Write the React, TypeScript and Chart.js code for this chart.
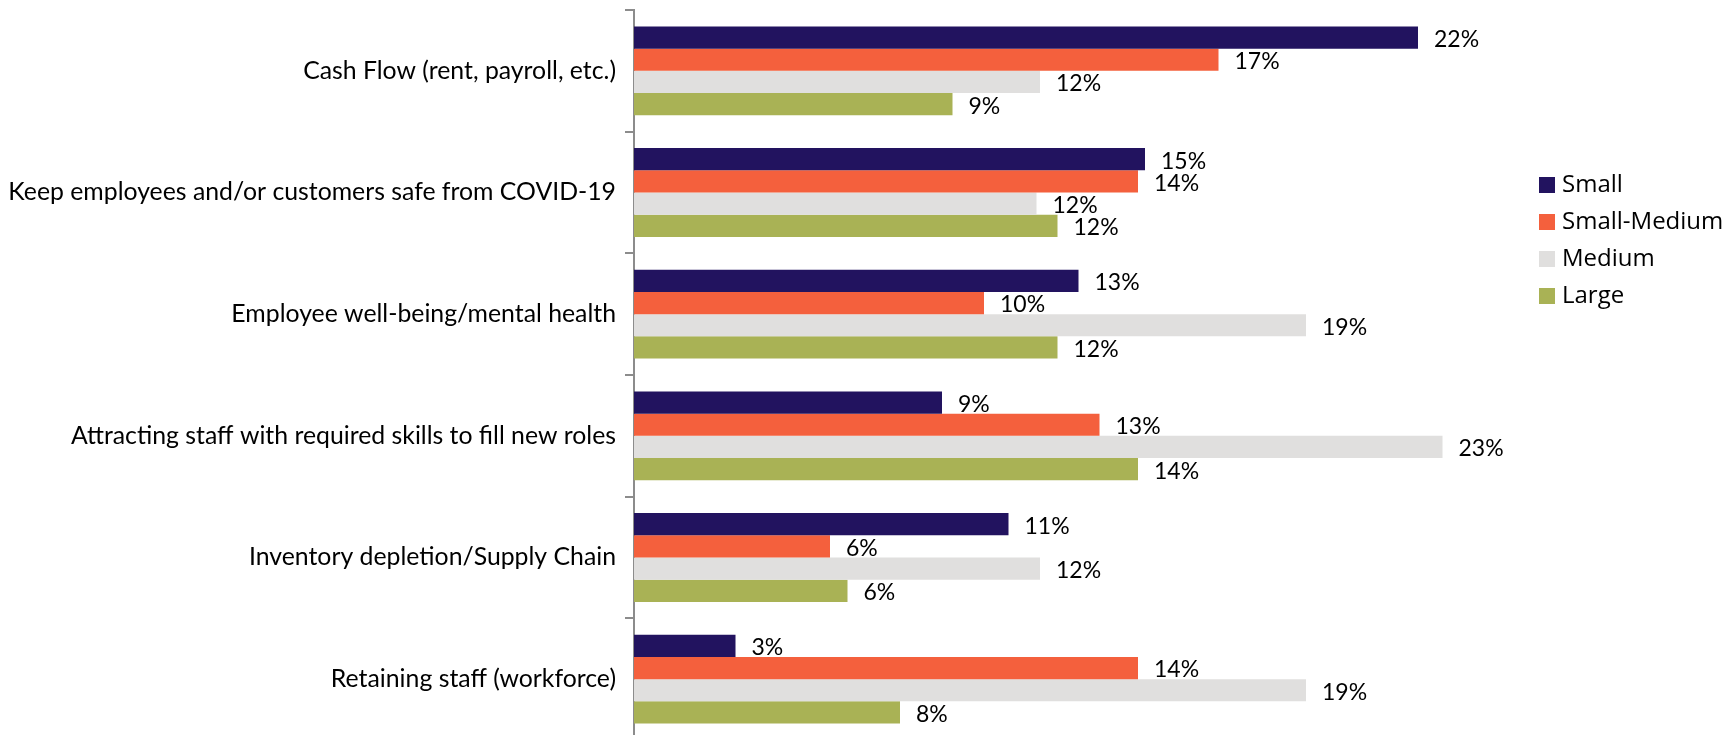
import { useEffect, useRef } from 'react';
import { Chart, registerables } from 'chart.js';

Chart.register(...registerables);

const categories = [
  'Cash Flow (rent, payroll, etc.)',
  'Keep employees and/or customers safe from COVID-19',
  'Employee well-being/mental health',
  'Attracting staff with required skills to fill new roles',
  'Inventory depletion/Supply Chain',
  'Retaining staff (workforce)',
];

const seriesNames = ['Small', 'Small-Medium', 'Medium', 'Large'];
const seriesColors = ['#22135F', '#F4603D', '#E0DFDE', '#A9B255'];

const small = [22.4, 14.6, 12.7, 8.8, 10.7, 2.9];
const smallMedium = [16.7, 14.4, 10.0, 13.3, 5.6, 14.4];
const medium = [11.6, 11.5, 19.2, 23.1, 11.6, 19.2];
const large = [9.1, 12.1, 12.1, 14.4, 6.1, 7.6];

const seriesValues = [small, smallMedium, medium, large];

const labelFont = 'Lato, "Open Sans", sans-serif';
const legendFont = '"Open Sans", Lato, sans-serif';

const dataLabelPlugin = {
  id: 'dataLabels',
  afterDatasetsDraw(chart: any) {
    const ctx = chart.ctx;
    ctx.save();
    ctx.font = `23px ${labelFont}`;
    ctx.fillStyle = '#000';
    ctx.textAlign = 'left';
    ctx.textBaseline = 'middle';
    chart.data.datasets.forEach((ds: any, di: number) => {
      const meta = chart.getDatasetMeta(di);
      meta.data.forEach((bar: any, i: number) => {
        const v = ds.data[i];
        ctx.fillText(`${Math.round(v)}%`, bar.x + 16, bar.y + 2);
      });
    });
    ctx.restore();
  },
};

const legendPlugin = {
  id: 'sideLegend',
  afterDraw(chart: any) {
    const ctx = chart.ctx;
    ctx.save();
    ctx.font = `24px ${legendFont}`;
    ctx.textAlign = 'left';
    ctx.textBaseline = 'middle';
    chart.data.datasets.forEach((ds: any, i: number) => {
      const cy = 185 + i * 37;
      ctx.fillStyle = ds.backgroundColor;
      ctx.fillRect(1539, cy - 8, 16, 16);
      ctx.fillStyle = '#000';
      ctx.fillText(ds.label, 1562, cy);
    });
    ctx.restore();
  },
};

export default function App() {
  const ref = useRef<HTMLCanvasElement | null>(null);

  useEffect(() => {
    document.body.style.margin = '0';
    const canvas = ref.current;
    if (!canvas) return;
    const chart = new Chart(canvas, {
      type: 'bar',
      data: {
        labels: categories,
        datasets: seriesNames.map((name, i) => ({
          label: name,
          data: seriesValues[i],
          backgroundColor: seriesColors[i],
          borderWidth: 0,
          barPercentage: 1,
          categoryPercentage: 0.73,
        })),
      },
      options: {
        indexAxis: 'y',
        animation: false,
        responsive: false,
        maintainAspectRatio: false,
        layout: { padding: { top: 10, bottom: 5, left: 0, right: 222 } },
        plugins: {
          legend: { display: false },
          tooltip: { enabled: false },
        },
        scales: {
          x: {
            display: false,
            min: 0,
            max: 25,
          },
          y: {
            type: 'category',
            offset: true,
            grid: {
              offset: true,
              drawOnChartArea: false,
              drawTicks: true,
              tickLength: 9,
              color: '#8c8c8c',
              lineWidth: 2,
            },
            border: { display: true, color: '#8c8c8c', width: 2 },
            ticks: {
              color: '#000',
              padding: 9,
              font: { family: labelFont, size: 24.8 },
            },
            afterFit: (scale: any) => {
              scale.width = 634;
              scale.paddingTop = 0;
              scale.paddingBottom = 0;
            },
          },
        },
      },
      plugins: [dataLabelPlugin, legendPlugin],
    });
    return () => chart.destroy();
  }, []);

  return (
    <div style={{ position: 'fixed', left: 0, top: 0, width: 1731, height: 735, overflow: 'hidden', background: '#fff' }}>
      <canvas ref={ref} width={1731} height={745} style={{ width: 1731, height: 745, display: 'block' }} />
    </div>
  );
}
